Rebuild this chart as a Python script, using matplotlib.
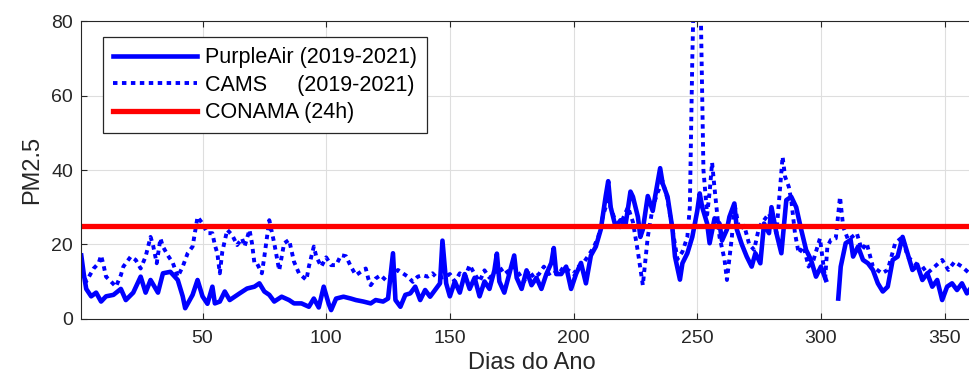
import numpy as np
import matplotlib
matplotlib.use("Agg")
import matplotlib.pyplot as plt

plt.rcParams["font.family"] = ["Liberation Sans", "DejaVu Sans"]

# ── Data (day of year, PM2.5) ───────────────────────────────────────────────
pa_day = [1, 2, 3, 5, 7, 9, 11, 14, 17, 19, 22, 25, 27, 29, 32, 34, 37, 40, 42,
          43, 46, 48, 50, 52, 54, 55, 57, 59, 61, 63, 65, 68, 71, 73, 75, 77,
          79, 82, 85, 87, 90, 93, 95, 97, 99, 101, 102, 104, 107, 110, 112,
          115, 118, 120, 123, 125, 127, 128, 130, 132, 134, 136, 138, 140, 142,
          144, 146, 147, 148.5, 150, 152, 154, 156, 158, 160, 162, 164, 166,
          168, 169, 170, 172, 174, 176, 177, 179, 181, 183, 185, 187, 189, 191,
          192, 193, 195, 197, 199, 201, 203, 205, 207, 209, 211, 213, 214, 215,
          217, 219, 221, 223, 224, 226, 227, 228, 230, 232, 233, 235, 236, 238,
          240, 241, 243, 244, 246, 248, 250, 251, 252, 254, 255, 257, 259, 260,
          262, 263, 265, 266, 268, 270, 272, 273.5, 275.5, 277, 279, 280, 282,
          284, 286, 288, 290, 292, 294, 296, 298, 300, 302, 304, 307, 308, 310,
          312, 313, 315, 317, 319, 321, 323, 325, 327, 329, 331, 333, 335, 337,
          339, 341, 343, 345, 347, 349, 351, 353, 355, 357, 359, 361]
pa_val = [17, 12, 8, 6, 7, 4.6, 6, 6.4, 8, 5, 7, 11.3, 7, 10.4, 7, 12.2, 12.6,
          10.4, 6, 2.8, 6.4, 10.4, 6, 4, 8.6, 4.1, 4.6, 7.3, 5, 5.9, 6.8, 8.1,
          8.6, 9.5, 7.3, 6.4, 4.6, 5.9, 5, 4.1, 4.1, 3.2, 5.4, 3, 8.6, 4, 2.3,
          5.4, 5.9, 5.4, 5, 4.6, 4.1, 5, 4.6, 5.4, 17.6, 5, 3.2, 6.4, 6.8, 8.6,
          5, 7.7, 5.9, 7.7, 9.5, 21, 9.5, 6, 10, 7, 12, 8, 11, 6, 10, 8, 13,
          17.5, 10, 7, 12, 17, 11, 8, 13, 9, 11, 8, 12, 15, 19, 12, 12, 14, 8,
          12, 15, 9.5, 17, 19.4, 24, 33, 37, 30, 24.7, 26.5, 25.2, 34.2, 32.8,
          27.4, 22, 24, 33, 29, 33, 40.5, 36.4, 32.8, 24, 16.7, 10.5, 14.9,
          17.6, 22, 29, 33.7, 30, 25.6, 20.3, 27, 25.6, 21, 24, 27.4, 31, 24,
          20, 16.7, 14, 17.6, 14.9, 25.6, 23, 30, 23, 17.6, 31.9, 32.8, 30, 24,
          18.5, 15.8, 11.3, 14, 10.4, np.nan, 5.4, 14, 20.3, 21.2, 16.7, 19.4,
          15.8, 14.9, 13.1, 9.5, 7.3, 8.6, 15.8, 16.7, 22, 17.6, 13.1, 14.4,
          10.4, 12.2, 8.6, 10.4, 5, 8.6, 9.5, 7.7, 9.5, 6.8, 8.6]

cams_day = [1, 3, 6, 8, 9, 10, 11, 13, 15, 17, 18, 21, 23, 25, 27, 29, 30, 31.5,
            33, 34, 36, 38, 40, 42, 44, 46, 48, 50, 52, 54, 55, 56, 57, 58, 60,
            62, 64, 66, 67, 69, 70, 71, 72, 74, 75, 77, 79, 81, 83, 85, 87, 89,
            92, 93, 95, 96, 98, 100, 102, 104, 106, 108, 110, 112, 114, 116,
            117, 118, 120, 122, 124, 126, 129, 131, 133, 135, 137, 139, 141, 143,
            145, 148, 150, 152, 154, 156, 158, 160, 162, 164, 166, 168, 170, 172,
            174, 176, 178, 180, 182, 184, 186, 188, 190, 192, 194, 196, 198, 200,
            202, 204, 206, 208, 210, 212, 214, 216, 218, 220, 222, 224, 226, 228,
            230, 232, 234, 236, 238, 240, 242, 244, 246, 247, 248, 249, 251,
            252, 252.5, 254, 255, 256, 257, 259, 261, 262, 264, 265, 267, 269, 271,
            273, 275, 277, 279, 282, 284.5, 285.5, 287, 288, 289.5, 291, 293, 295,
            297, 299.6, 301.7, 302.6, 304, 306, 307.7, 309, 311, 314.5, 316.5,
            318.5, 321, 324.6, 327, 330, 333, 335, 338, 341, 343, 346, 349,
            351.5, 354, 357, 360]
cams_val = [13, 10, 13.5, 14.9, 17, 14.4, 11.3, 10, 8.6, 11.7, 14, 16.7, 15.8,
            13.5, 16.7, 22, 19.8, 14.9, 21.6, 19.4, 17, 15, 11.3, 14, 17.6, 19.4,
            27.4, 25.6, 23, 23, 19.8, 17.6, 12.2, 18, 23.9, 22.5, 19.8, 21.6,
            19.4, 23.9, 20.3, 14.9, 14.9, 12.2, 16.7, 26.5, 20.3, 13, 20.3, 21.2,
            15.3, 12.2, 10.4, 14, 19.4, 16.7, 14, 16.5, 14.4, 14.4, 17.1, 16.8,
            14, 11.7, 12.6, 13.5, 10.8, 9, 10.8, 11.7, 10.4, 11.3, 13.1, 12.2,
            11.3, 9.9, 11.3, 11.7, 11.3, 12.2, 10.8, 11.3, 12, 10, 12.2, 11, 14.4,
            12, 10, 13, 11, 12, 14, 12, 13, 14, 12, 10, 13, 11, 12, 14, 12, 13,
            12, 14, 13, 12, 14, 15, 17, 19, 22, 28, 32, 28, 24, 27, 30, 26, 18,
            9, 22, 30, 34, 37, 32, 24, 16, 18, 22, 30, 70, 100, 100, 60, 40, 28,
            34, 42, 35, 22, 16, 10.4, 22, 31, 24, 25, 20, 18.5, 24.7, 26.5, 28.3,
            23, 43.6, 38.2, 35.5, 31.9, 23, 17.6, 19.4, 14, 15.8, 21.6, 10.8, 19.4,
            21.2, 21.6, 32.8, 24.7, 21.2, 23, 18.5, 20.3, 14, 12.2, 13.1, 20.3,
            22, 16.7, 14.9, 14, 12.2, 14, 15.8, 13.1, 15.3, 14, 12.2]

conama_limit = 25
x_ticks = [50, 100, 150, 200, 250, 300, 350]
y_ticks = [0, 20, 40, 60, 80]

ink = "#262626"

# ── Figure setup ────────────────────────────────────────────────────────────
fig = plt.figure(figsize=(9.7, 3.9), dpi=100)
ax = fig.add_axes([0.0838, 0.183, 0.9283, 0.762])

ax.plot(pa_day, pa_val, color="b", linewidth=3.3, solid_joinstyle="round",
        label="PurpleAir (2019-2021)")
ax.plot(cams_day, cams_val, color="b", linewidth=2.8,
        linestyle=(0, (1.15, 1.15)), label="CAMS     (2019-2021)")
ax.axhline(conama_limit, color="r", linewidth=3.8, label="CONAMA (24h)")

ax.set_xlim(1, 365)
ax.set_ylim(0, 80)
ax.set_xticks(x_ticks)
ax.set_yticks(y_ticks)
ax.grid(color="#dedede", linewidth=0.8)
ax.set_axisbelow(True)

ax.tick_params(direction="in", length=4, width=0.8, colors=ink,
               labelsize=14, top=True, right=False)
ax.tick_params(axis="x", pad=8)
ax.tick_params(axis="y", pad=6)
for sp in ax.spines.values():
    sp.set_color(ink)
    sp.set_linewidth(0.8)

ax.set_xlabel("Dias do Ano", fontsize=17, color=ink, labelpad=4)
ax.set_ylabel("PM2.5", fontsize=17, color=ink, labelpad=6)

leg = ax.legend(loc="upper left", bbox_to_anchor=(0.024, 0.946),
                borderaxespad=0, fontsize=15.5, handlelength=3.9,
                handletextpad=0.4, labelspacing=0.3, borderpad=0.45,
                fancybox=False, framealpha=1)
leg.get_frame().set_edgecolor(ink)
leg.get_frame().set_linewidth(0.9)

fig.savefig("out.png", dpi=100)
